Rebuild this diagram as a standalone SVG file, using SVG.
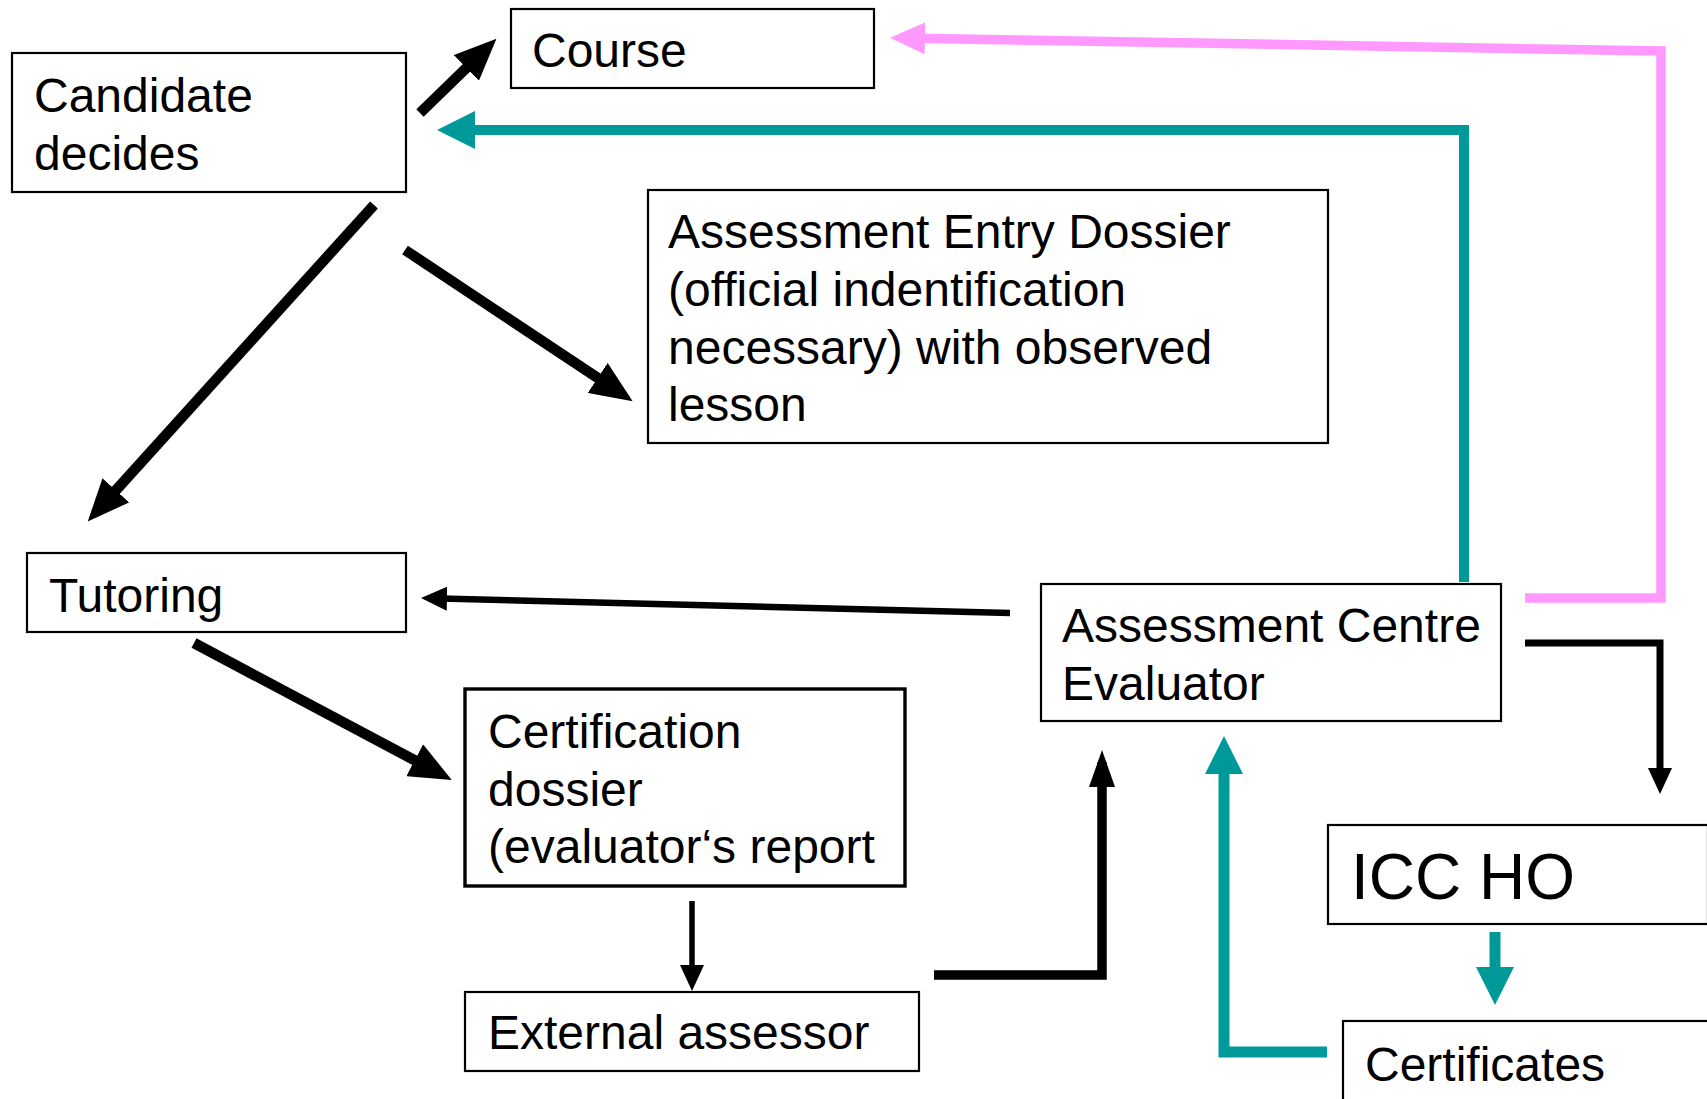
<svg xmlns="http://www.w3.org/2000/svg" width="1707" height="1099" viewBox="0 0 1707 1099">
<style>
.box{fill:#fff;stroke:#000;stroke-width:2.2}
.thick{stroke-width:3.4}
.t{font-family:"Liberation Sans",Arial,sans-serif;font-size:48px;fill:#000}
.big{font-size:64px}
.k{fill:none;stroke:#000;stroke-linejoin:miter}
.teal{fill:none;stroke:#009999;stroke-linejoin:miter}
.pink{fill:none;stroke:#FF99FF;stroke-linejoin:miter}
</style>
<defs>
<marker id="ab" markerUnits="userSpaceOnUse" markerWidth="42" markerHeight="36" refX="28" refY="18" orient="auto"><path d="M0,0 L42,18 L0,36 z" fill="#000"/></marker>
<marker id="as" markerUnits="userSpaceOnUse" markerWidth="26" markerHeight="24" refX="16" refY="12" orient="auto"><path d="M0,0 L26,12 L0,24 z" fill="#000"/></marker>
<marker id="am" markerUnits="userSpaceOnUse" markerWidth="37" markerHeight="26" refX="25" refY="13" orient="auto"><path d="M0,0 L37,13 L0,26 z" fill="#000"/></marker>
<marker id="at" markerUnits="userSpaceOnUse" markerWidth="38" markerHeight="38" refX="26" refY="19" orient="auto"><path d="M0,0 L38,19 L0,38 z" fill="#009999"/></marker>
<marker id="ap" markerUnits="userSpaceOnUse" markerWidth="35" markerHeight="32" refX="23" refY="16" orient="auto"><path d="M0,0 L35,16 L0,32 z" fill="#FF99FF"/></marker>
</defs>
<g id="connectors">
<line class="k" x1="420" y1="113" x2="486.4" y2="48.4" stroke-width="10.5" marker-end="url(#ab)"/>
<path class="teal" d="M1464,582 L1464,130 L449,130" stroke-width="10" marker-end="url(#at)"/>
<path class="pink" d="M1525,598 L1661,598 L1661,51 L902,38" stroke-width="9.5" marker-end="url(#ap)"/>
<line class="k" x1="374" y1="205" x2="97.1" y2="511.1" stroke-width="10.5" marker-end="url(#ab)"/>
<line class="k" x1="405" y1="250" x2="621" y2="393.4" stroke-width="10.5" marker-end="url(#ab)"/>
<line class="k" x1="1010" y1="613" x2="431" y2="598.3" stroke-width="6.5" marker-end="url(#as)"/>
<line class="k" x1="194" y1="643" x2="439.4" y2="773.4" stroke-width="10.5" marker-end="url(#ab)"/>
<line class="k" x1="692" y1="901" x2="692" y2="981" stroke-width="5.5" marker-end="url(#as)"/>
<path class="k" d="M934,975 L1102,975 L1102,762" stroke-width="9.5" marker-end="url(#am)"/>
<path class="k" d="M1525,643 L1660,643 L1660,784" stroke-width="7" marker-end="url(#as)"/>
<line class="teal" x1="1495" y1="932" x2="1495" y2="993" stroke-width="11" marker-end="url(#at)"/>
<path class="teal" d="M1327,1052 L1224,1052 L1224,748" stroke-width="11" marker-end="url(#at)"/>
</g>
<g id="candidate"><rect class="box" x="12" y="53" width="394" height="139"/><text class="t" x="34" y="112">Candidate</text><text class="t" x="34" y="170">decides</text></g>
<g id="course"><rect class="box" x="511" y="9" width="363" height="79"/><text class="t" x="532" y="67">Course</text></g>
<g id="entry"><rect class="box" x="648" y="190" width="680" height="253"/><text class="t" x="668" y="248">Assessment Entry Dossier</text><text class="t" x="668" y="306">(official indentification</text><text class="t" x="668" y="364">necessary) with observed</text><text class="t" x="668" y="421">lesson</text></g>
<g id="tutoring"><rect class="box" x="27" y="553" width="379" height="79"/><text class="t" x="49" y="612">Tutoring</text></g>
<g id="centre"><rect class="box" x="1041" y="584" width="460" height="137"/><text class="t" x="1062" y="642">Assessment Centre</text><text class="t" x="1062" y="700">Evaluator</text></g>
<g id="certdossier"><rect class="box thick" x="465" y="689" width="440" height="197"/><text class="t" x="488" y="748">Certification</text><text class="t" x="488" y="806">dossier</text><text class="t" x="488" y="863">(evaluator‘s report</text></g>
<g id="external"><rect class="box" x="465" y="992" width="454" height="79"/><text class="t" x="488" y="1049">External assessor</text></g>
<g id="icc"><rect class="box" x="1328" y="825" width="380" height="99"/><text class="t big" x="1351" y="899">ICC HO</text></g>
<g id="certificates"><rect class="box" x="1343" y="1021" width="370" height="90"/><text class="t" x="1365" y="1081">Certificates</text></g>
</svg>
